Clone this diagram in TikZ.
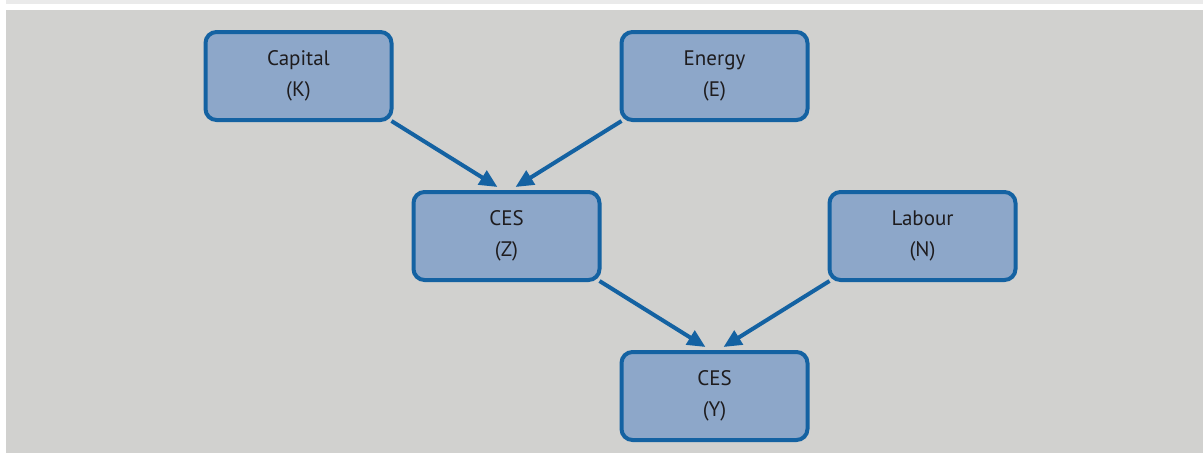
\documentclass[tikz,border=0pt]{standalone}
\usepackage{fontspec}
\setmainfont{PT Sans}
\usetikzlibrary{arrows.meta}

\definecolor{boxblue}{RGB}{20,98,162}
\definecolor{boxfill}{RGB}{141,167,201}
\definecolor{panelgray}{RGB}{209,209,207}
\definecolor{stripgray}{RGB}{234,234,234}
\definecolor{inkgray}{RGB}{30,28,30}

\tikzset{
    factor/.style={draw=boxblue, fill=boxfill, line width=4pt, rounded corners=11pt,
        minimum width=186pt, minimum height=88pt, align=center, text=inkgray,
        font=\fontsize{21}{31}\selectfont},
    feed/.style={draw=boxblue, line width=4pt, -{Triangle[length=18pt, width=16pt]}}
}

\begin{document}
\begin{tikzpicture}[x=1pt, y=-1pt]
                    % Background
                    \useasboundingbox (0,0) rectangle (1203,453);
                    \fill[white] (0,0) rectangle (1203,453);
                    \fill[stripgray] (6,0) rectangle (1203,4);
                    \fill[panelgray] (6,10) rectangle (1203,453);

                    % Boxes
                    \node[factor] (cap) at (298.5, 76) {Capital\\(K)};
                    \node[factor] (ene) at (714.5, 76) {Energy\\(E)};
                    \node[factor] (cesz) at (506.5, 236) {CES\\(Z)};
                    \node[factor] (lab) at (922.5, 236) {Labour\\(N)};
                    \node[factor] (cesy) at (714.5, 396) {CES\\(Y)};

                    % Arrows
                    \draw[feed] ([shift={(-2,-1)}]cap.south east) -- ([shift={(-9,-3)}]cesz.north);
                    \draw[feed] ([shift={(2,-1)}]ene.south west) -- ([shift={(9,-3)}]cesz.north);
                    \draw[feed] ([shift={(-2,-1)}]cesz.south east) -- ([shift={(-9,-3)}]cesy.north);
                    \draw[feed] ([shift={(2,-1)}]lab.south west) -- ([shift={(9,-3)}]cesy.north);
                \end{tikzpicture}
\end{document}
